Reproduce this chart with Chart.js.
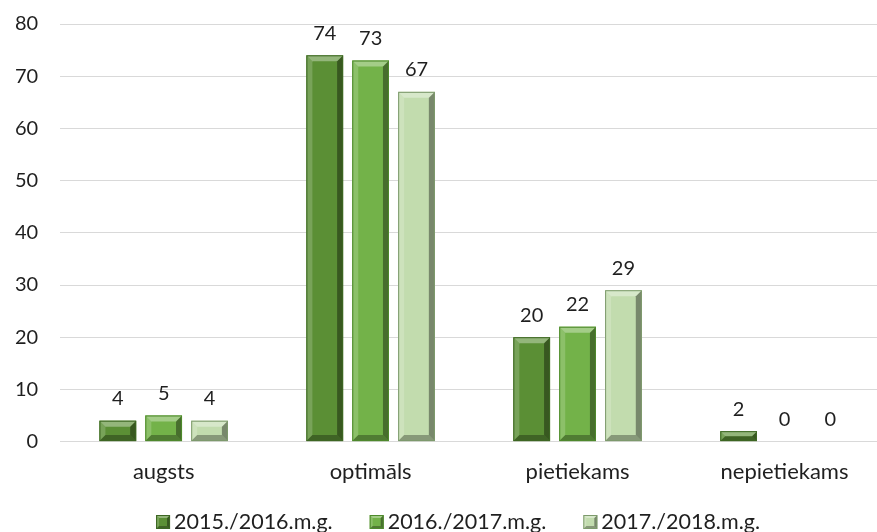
<!DOCTYPE html>
<html>
<head>
<meta charset="utf-8">
<script src="https://cdn.jsdelivr.net/npm/chart.js@4/dist/chart.umd.min.js"></script>
<style>
html,body{margin:0;padding:0;background:#fff;overflow:hidden;}
#wrap{width:888px;height:532px;position:relative;}
</style>
</head>
<body>
<div id="wrap"><canvas id="c"></canvas></div>
<script>
const categories = ['augsts', 'optimāls', 'pietiekams', 'nepietiekams'];
const seriesNames = ['2015./2016.m.g.', '2016./2017.m.g.', '2017./2018.m.g.'];
const values2015 = [4, 74, 20, 2];
const values2016 = [5, 73, 22, 0];
const values2017 = [4, 67, 29, 0];
const yTicks = [0, 10, 20, 30, 40, 50, 60, 70, 80];

const fills = ['#5b8f35', '#73b249', '#c2dcae'];
const edges = ['#3d6623', '#4e8a2c', '#7d9a6c'];
const FONT = 'Lato, "Open Sans", sans-serif';
const TEXT = '#1f1f1f';

function bevelRect(ctx, l, t, w, h, bv, fill, edge) {
  const r = l + w, b = t + h;
  ctx.fillStyle = fill;
  ctx.fillRect(l, t, w, h);
  ctx.fillStyle = 'rgba(255,255,255,0.18)';
  ctx.beginPath(); ctx.moveTo(l, t); ctx.lineTo(l + bv, t + bv); ctx.lineTo(l + bv, b - bv); ctx.lineTo(l, b); ctx.closePath(); ctx.fill();
  ctx.fillStyle = 'rgba(0,0,0,0.38)';
  ctx.beginPath(); ctx.moveTo(r, t); ctx.lineTo(r - bv, t + bv); ctx.lineTo(r - bv, b - bv); ctx.lineTo(r, b); ctx.closePath(); ctx.fill();
  ctx.fillStyle = 'rgba(255,255,255,0.35)';
  ctx.beginPath(); ctx.moveTo(l, t); ctx.lineTo(r, t); ctx.lineTo(r - bv, t + bv); ctx.lineTo(l + bv, t + bv); ctx.closePath(); ctx.fill();
  ctx.fillStyle = 'rgba(0,0,0,0.3)';
  ctx.beginPath(); ctx.moveTo(l, b); ctx.lineTo(r, b); ctx.lineTo(r - bv, b - bv); ctx.lineTo(l + bv, b - bv); ctx.closePath(); ctx.fill();
  ctx.strokeStyle = edge;
  ctx.lineWidth = 1;
  ctx.strokeRect(l + 0.5, t + 0.5, w - 1, h - 1);
}

const bevelPlugin = {
  id: 'bevel',
  afterDatasetsDraw(chart) {
    const ctx = chart.ctx;
    chart.data.datasets.forEach((ds, di) => {
      const meta = chart.getDatasetMeta(di);
      meta.data.forEach((bar) => {
        const p = bar.getProps(['x', 'y', 'base', 'width'], true);
        const l = p.x - p.width / 2;
        const t = Math.min(p.y, p.base), b = Math.max(p.y, p.base);
        const h = b - t;
        if (h < 1) return;
        ctx.save();
        bevelRect(ctx, l, t, p.width, h, Math.min(6, h / 2), fills[di], edges[di]);
        ctx.restore();
      });
    });
  }
};

const labelPlugin = {
  id: 'valueLabels',
  afterDatasetsDraw(chart) {
    const ctx = chart.ctx;
    ctx.save();
    ctx.font = '20px ' + FONT;
    ctx.fillStyle = TEXT;
    ctx.textAlign = 'center';
    ctx.textBaseline = 'middle';
    chart.data.datasets.forEach((ds, di) => {
      const meta = chart.getDatasetMeta(di);
      meta.data.forEach((bar, i) => {
        const p = bar.getProps(['x', 'y'], true);
        ctx.fillText(String(ds.data[i]), p.x, p.y - 22);
      });
    });
    ctx.restore();
  }
};

const legendPlugin = {
  id: 'bottomLegend',
  afterDraw(chart) {
    const ctx = chart.ctx;
    ctx.save();
    ctx.font = '21.5px ' + FONT;
    ctx.textBaseline = 'middle';
    ctx.textAlign = 'left';
    const box = 14, gapBox = 4, gapItem = 37, cy = 522, cx = 458;
    const widths = chart.data.datasets.map(ds => ctx.measureText(ds.label).width);
    const total = widths.reduce((a, w) => a + box + gapBox + w, 0) + gapItem * (widths.length - 1);
    let x = cx - total / 2;
    chart.data.datasets.forEach((ds, i) => {
      bevelRect(ctx, x, cy - box / 2, box, box, 3, fills[i], edges[i]);
      ctx.fillStyle = TEXT;
      ctx.fillText(ds.label, x + box + gapBox, cy);
      x += box + gapBox + widths[i] + gapItem;
    });
    ctx.restore();
  }
};

const seriesValues = [values2015, values2016, values2017];
new Chart(document.getElementById('c'), {
  type: 'bar',
  data: {
    labels: categories,
    datasets: seriesNames.map((n, i) => ({
      label: n,
      data: seriesValues[i],
      backgroundColor: fills[i],
      borderWidth: 0,
      barPercentage: 0.8,
      categoryPercentage: 0.665
    }))
  },
  options: {
    responsive: true,
    maintainAspectRatio: false,
    animation: false,
    layout: { padding: { left: 13, right: 0, top: 24, bottom: 30 } },
    scales: {
      x: {
        grid: { display: false, drawTicks: false },
        border: { display: true, color: '#d9d9d9', width: 1 },
        ticks: { font: { family: FONT, size: 22 }, color: TEXT, padding: 17 }
      },
      y: {
        min: 0, max: 80,
        afterBuildTicks(scale) { scale.ticks = yTicks.map(v => ({ value: v })); },
        grid: { color: '#d9d9d9', drawTicks: true, tickLength: 20, tickColor: 'rgba(0,0,0,0)', lineWidth: 1 },
        border: { display: false },
        ticks: { font: { family: FONT, size: 20 }, color: TEXT, padding: 2 }
      }
    },
    plugins: {
      legend: { display: false },
      tooltip: { enabled: false }
    }
  },
  plugins: [bevelPlugin, labelPlugin, legendPlugin]
});
</script>
</body>
</html>
